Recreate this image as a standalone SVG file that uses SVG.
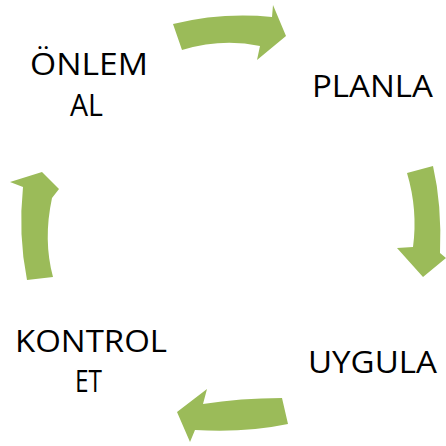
<svg xmlns="http://www.w3.org/2000/svg" width="446" height="446" viewBox="0 0 446 446">
  <style>
    .label { font-family: "Open Sans", "Liberation Sans", sans-serif; font-size: 31px; fill: #000000; }
    .cycle-arrow { fill: #9BBB59; stroke: none; }
  </style>
  <rect width="446" height="446" fill="#ffffff"/>

  <!-- curved block arrows linking the four steps, clockwise -->
  <g id="connectors">
    <path class="cycle-arrow" d="M173,24 Q222,12 272,17 L273,5 L286,36 L257,60 L260,46 Q222,38 182,50 Z"/>
    <path class="cycle-arrow" d="M407,173 Q418,210 413,247 L397,248 L423,277 L446,258 L440,253 Q442,205 433,166 Z"/>
    <path class="cycle-arrow" d="M282,398 Q240,398 203,404 L207,389 L177,412 L190,442 L195,430 Q245,433 288,424 Z"/>
    <path class="cycle-arrow" d="M42,172 L10,182 L23,187 Q18,235 27,280 L53,277 Q43,240 52,198 L59,189 Z"/>
  </g>

  <g id="onlem-al">
    <text class="label" x="30" y="75" textLength="118" lengthAdjust="spacingAndGlyphs">ÖNLEM</text>
    <text class="label" x="70" y="116" textLength="33" lengthAdjust="spacingAndGlyphs">AL</text>
  </g>

  <g id="planla">
    <text class="label" x="312" y="97" textLength="121" lengthAdjust="spacingAndGlyphs">PLANLA</text>
  </g>

  <g id="uygula">
    <text class="label" x="308" y="373" textLength="129" lengthAdjust="spacingAndGlyphs">UYGULA</text>
  </g>

  <g id="kontrol-et">
    <text class="label" x="15" y="352" textLength="152" lengthAdjust="spacingAndGlyphs">KONTROL</text>
    <text class="label" x="75" y="392" textLength="27" lengthAdjust="spacingAndGlyphs">ET</text>
  </g>
</svg>
